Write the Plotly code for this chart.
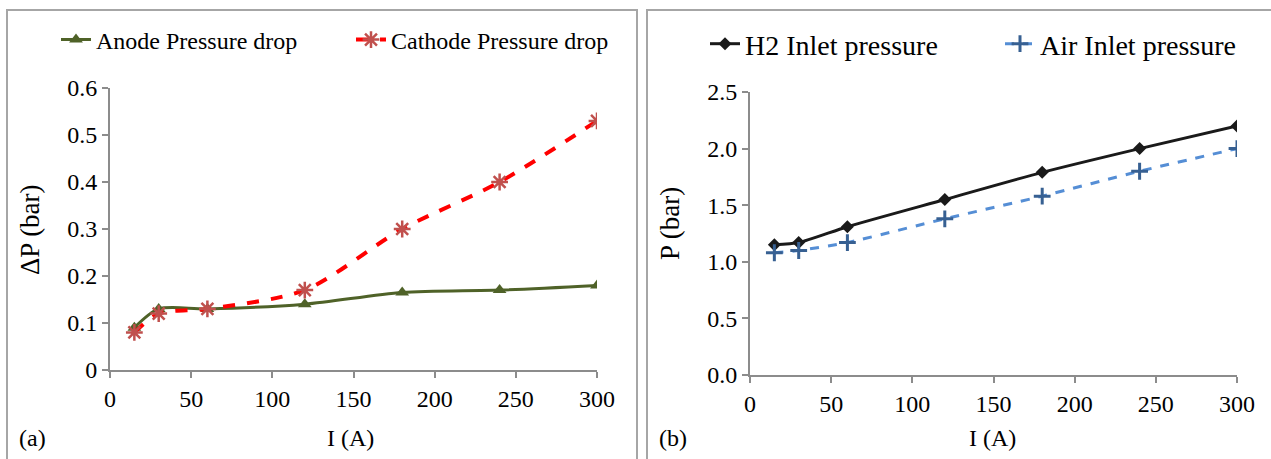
import plotly.graph_objects as go

current = [15, 30, 60, 120, 180, 240, 300]
anode_dp = [0.09, 0.13, 0.13, 0.14, 0.165, 0.17, 0.18]
cathode_dp = [0.08, 0.12, 0.13, 0.17, 0.30, 0.40, 0.53]
h2_inlet = [1.15, 1.17, 1.31, 1.55, 1.79, 2.00, 2.20]
air_inlet = [1.08, 1.10, 1.17, 1.38, 1.58, 1.80, 2.00]

W, H = 1271, 459
FONT = "Liberation Serif"
TICK_FS = 24

def px(x):
    return x / W

def py(y):
    return (H - y) / H

fig = go.Figure()

fig.add_trace(go.Scatter(
    x=current, y=anode_dp, name="Anode Pressure drop", mode="lines+markers",
    line=dict(color="#4F6228", width=3, shape="spline", smoothing=0.8),
    marker=dict(symbol="triangle-up", size=12, color="#4F6228"),
    xaxis="x", yaxis="y", legend="legend"))
fig.add_trace(go.Scatter(
    x=current, y=cathode_dp, name="Cathode Pressure drop", mode="lines+markers",
    line=dict(color="#FF0000", width=4, dash="dash", shape="spline", smoothing=0.8),
    marker=dict(symbol="asterisk-open", size=14, color="#C0504D",
                line=dict(color="#C0504D", width=2.5)),
    xaxis="x", yaxis="y", legend="legend"))
fig.add_trace(go.Scatter(
    x=current, y=h2_inlet, name="H2 Inlet pressure", mode="lines+markers",
    line=dict(color="#1A1A1A", width=3, shape="spline", smoothing=0.6),
    marker=dict(symbol="diamond", size=10, color="#1A1A1A"),
    xaxis="x2", yaxis="y2", legend="legend2"))
fig.add_trace(go.Scatter(
    x=current, y=air_inlet, name="Air Inlet pressure", mode="lines+markers",
    line=dict(color="#558ED5", width=3, dash="dash", shape="spline", smoothing=0.6),
    marker=dict(symbol="cross-thin-open", size=12, color="#376092",
                line=dict(color="#376092", width=3)),
    xaxis="x2", yaxis="y2", legend="legend2"))

axis_common = dict(
    showline=True, linecolor="#8C8C8C", linewidth=2, ticks="outside",
    tickcolor="#8C8C8C", ticklen=6, tickwidth=2, showgrid=False, zeroline=False,
    tickfont=dict(family=FONT, size=TICK_FS, color="#000"), mirror=False,
    automargin=False,
)

fig.update_layout(
    width=W, height=H,
    margin=dict(l=0, r=0, t=0, b=0, pad=0, autoexpand=False),
    paper_bgcolor="white", plot_bgcolor="white",
    font=dict(family=FONT, size=24, color="#000"),
    xaxis=dict(domain=[px(110), px(597)], range=[0, 300], dtick=50, anchor="y", **axis_common),
    yaxis=dict(domain=[py(370), py(88)], range=[0, 0.6], dtick=0.1, anchor="x", **axis_common),
    xaxis2=dict(domain=[px(750), px(1237)], range=[0, 300], dtick=50, anchor="y2", **axis_common),
    yaxis2=dict(domain=[py(375), py(92)], range=[0, 2.5], dtick=0.5, tickformat=".1f", anchor="x2", **axis_common),
    legend=dict(orientation="h", x=px(56), y=py(40), yanchor="middle", xanchor="left",
                font=dict(family=FONT, size=24), bgcolor="rgba(0,0,0,0)",
                entrywidth=250, entrywidthmode="pixels"),
    legend2=dict(orientation="h", x=px(705), y=py(44), yanchor="middle", xanchor="left",
                 font=dict(family=FONT, size=28), bgcolor="rgba(0,0,0,0)",
                 entrywidth=250, entrywidthmode="pixels"),
    showlegend=True,
)

annos = [
    dict(text="ΔP (bar)", x=px(30), y=py(230), textangle=-90, size=27),
    dict(text="I (A)", x=px(350), y=py(438), size=24),
    dict(text="(a)", x=px(32), y=py(438), size=24),
    dict(text="P (bar)", x=px(670), y=py(224), textangle=-90, size=27),
    dict(text="I (A)", x=px(992), y=py(438), size=24),
    dict(text="(b)", x=px(673), y=py(438), size=24),
]
for a in annos:
    s = a.pop("size")
    fig.add_annotation(xref="paper", yref="paper", showarrow=False,
                       xanchor="center", yanchor="middle",
                       font=dict(family=FONT, size=s, color="#000"), **a)

for x0, x1 in [(7, 637), (647, 1275)]:
    fig.add_shape(type="rect", xref="paper", yref="paper",
                  x0=px(x0), x1=px(x1), y0=-0.1, y1=py(10),
                  line=dict(color="#A6A6A6", width=2), fillcolor="rgba(0,0,0,0)", layer="below")

fig.write_html("out.html", config={"displayModeBar": False},
               post_script="document.body.style.margin='0';document.body.style.overflow='hidden';")
